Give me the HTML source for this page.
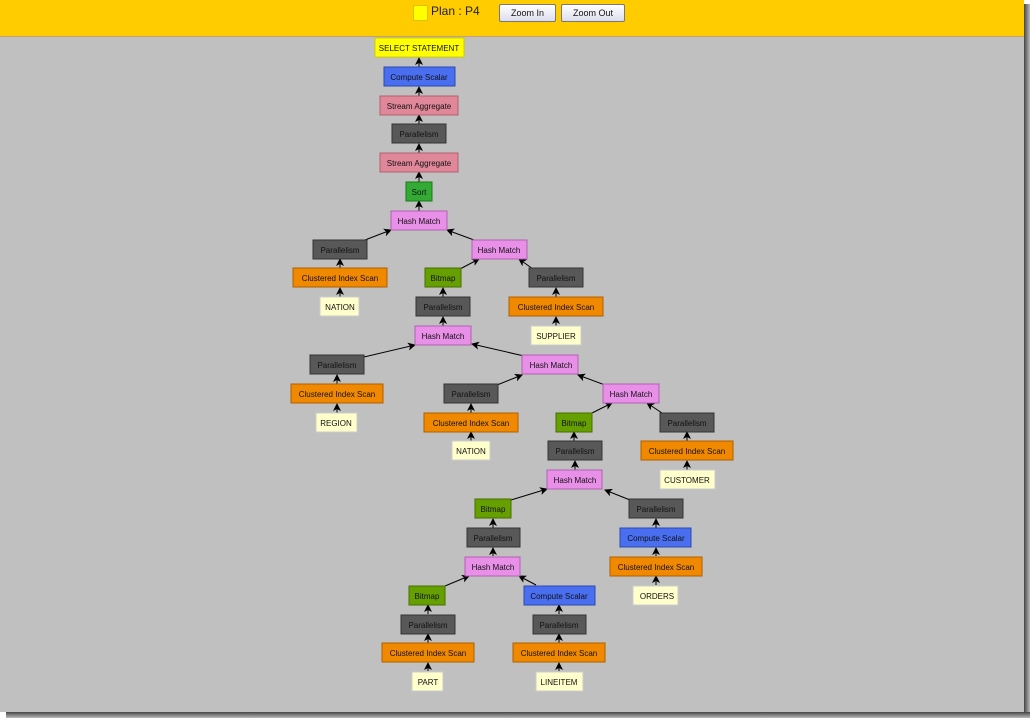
<!DOCTYPE html>
<html><head><meta charset="utf-8"><style>
html,body{margin:0;padding:0;background:#fff;width:1036px;height:724px;overflow:hidden;font-family:"Liberation Sans",sans-serif}
#hdr{position:absolute;left:0;top:0;width:1024px;height:36px;background:#ffcc00;border-bottom:1px solid #c8a070}
#sq{position:absolute;left:413px;top:5px;width:13px;height:14px;background:#ffff00;border:1px solid #e0c000}
#pl{position:absolute;left:431px;top:4px;font-size:12px;color:#222}
.btn{position:absolute;top:4px;height:16px;border:1px solid #777;border-radius:2px;background:linear-gradient(#fff,#dde);font-size:9px;line-height:16px;text-align:center;color:#111}
#gray{position:absolute;left:0;top:37px;width:1024px;height:675px;background:#c0c0c0}
#sr{position:absolute;left:1024px;top:4px;width:6px;height:714px;background:linear-gradient(90deg,#444,#bbb)}
#sb{position:absolute;left:6px;top:712px;width:1024px;height:6px;background:linear-gradient(#444,#bbb)}
svg{position:absolute;left:0;top:0}
text{font-family:"Liberation Sans",sans-serif;font-size:8px;text-anchor:middle;fill:#111}
</style></head><body>
<div id="hdr"></div><div id="sq"></div><div id="pl">Plan : P4</div>
<div class="btn" style="left:499px;width:55px">Zoom In</div>
<div class="btn" style="left:561px;width:62px">Zoom Out</div>
<div id="gray"></div><div id="sr"></div><div id="sb"></div>
<svg width="1036" height="724">
<defs><marker id="a" markerWidth="8" markerHeight="8" refX="7" refY="4" orient="auto" markerUnits="userSpaceOnUse"><path d="M0,0L8,4L0,8L2,4z" fill="#000"/></marker></defs>
<g stroke="#000" stroke-width="1" marker-end="url(#a)">
<line x1="419" y1="67" x2="419" y2="58"/>
<line x1="419" y1="96" x2="419" y2="87"/>
<line x1="419" y1="124" x2="419" y2="115"/>
<line x1="419" y1="153" x2="419" y2="144"/>
<line x1="419" y1="182" x2="419" y2="172"/>
<line x1="419" y1="211" x2="419" y2="201"/>
<line x1="365" y1="240" x2="391" y2="230"/>
<line x1="474" y1="240" x2="447" y2="230"/>
<line x1="340" y1="268" x2="340" y2="259"/>
<line x1="340" y1="297" x2="340" y2="288"/>
<line x1="460" y1="269" x2="479" y2="259"/>
<line x1="533" y1="269" x2="519" y2="259"/>
<line x1="443" y1="297" x2="443" y2="288"/>
<line x1="443" y1="326" x2="443" y2="317"/>
<line x1="556" y1="297" x2="556" y2="288"/>
<line x1="556" y1="326" x2="556" y2="317"/>
<line x1="364" y1="357" x2="415" y2="345"/>
<line x1="524" y1="356" x2="472" y2="344"/>
<line x1="337" y1="384" x2="337" y2="375"/>
<line x1="337" y1="413" x2="337" y2="404"/>
<line x1="497" y1="385" x2="522" y2="375"/>
<line x1="605" y1="385" x2="578" y2="375"/>
<line x1="471" y1="413" x2="471" y2="404"/>
<line x1="471" y1="441" x2="471" y2="432"/>
<line x1="592" y1="413" x2="612" y2="403"/>
<line x1="662" y1="413" x2="647" y2="403"/>
<line x1="574" y1="441" x2="574" y2="432"/>
<line x1="687" y1="441" x2="687" y2="432"/>
<line x1="687" y1="470" x2="687" y2="461"/>
<line x1="575" y1="470" x2="575" y2="461"/>
<line x1="511" y1="500" x2="547" y2="489"/>
<line x1="630" y1="500" x2="605" y2="490"/>
<line x1="493" y1="528" x2="493" y2="519"/>
<line x1="493" y1="556" x2="493" y2="548"/>
<line x1="656" y1="528" x2="656" y2="519"/>
<line x1="656" y1="556" x2="656" y2="548"/>
<line x1="656" y1="585" x2="656" y2="576"/>
<line x1="445" y1="586" x2="469" y2="576"/>
<line x1="536" y1="585" x2="519" y2="576"/>
<line x1="428" y1="614" x2="428" y2="605"/>
<line x1="428" y1="643" x2="428" y2="634"/>
<line x1="428" y1="671" x2="428" y2="663"/>
<line x1="559" y1="614" x2="559" y2="605"/>
<line x1="559" y1="643" x2="559" y2="634"/>
<line x1="559" y1="671" x2="559" y2="663"/>
</g>
<g stroke-width="1">
<!-- helper: rect with 3D border -->
<rect x="375" y="38" width="89" height="19" fill="#ffff00" stroke="#cccc00"/><text x="419" y="51">SELECT STATEMENT</text>
<rect x="384" y="67" width="71" height="19" fill="#4a6ef0" stroke="#2a4ab0"/><text x="419" y="80">Compute Scalar</text>
<rect x="380" y="96" width="78" height="19" fill="#e0879a" stroke="#b06070"/><text x="419" y="109">Stream Aggregate</text>
<rect x="392" y="124" width="54" height="19" fill="#585858" stroke="#333"/><text x="419" y="137">Parallelism</text>
<rect x="380" y="153" width="78" height="19" fill="#e0879a" stroke="#b06070"/><text x="419" y="166">Stream Aggregate</text>
<rect x="406" y="182" width="26" height="19" fill="#33aa33" stroke="#1a7a1a"/><text x="419" y="195">Sort</text>
<rect x="391" y="211" width="56" height="19" fill="#e890e8" stroke="#b060b0"/><text x="419" y="224">Hash Match</text>

<rect x="313" y="240" width="54" height="19" fill="#585858" stroke="#333"/><text x="340" y="253">Parallelism</text>
<rect x="472" y="240" width="55" height="19" fill="#e890e8" stroke="#b060b0"/><text x="499" y="253">Hash Match</text>
<rect x="293" y="268" width="94" height="19" fill="#f08800" stroke="#b06000"/><text x="340" y="281">Clustered Index Scan</text>
<rect x="425" y="268" width="36" height="19" fill="#66a000" stroke="#447000"/><text x="443" y="281">Bitmap</text>
<rect x="529" y="268" width="54" height="19" fill="#585858" stroke="#333"/><text x="556" y="281">Parallelism</text>
<rect x="320" y="297" width="39" height="19" fill="#ffffcc" stroke="#ccc"/><text x="340" y="310">NATION</text>
<rect x="416" y="297" width="54" height="19" fill="#585858" stroke="#333"/><text x="443" y="310">Parallelism</text>
<rect x="509" y="297" width="94" height="19" fill="#f08800" stroke="#b06000"/><text x="556" y="310">Clustered Index Scan</text>
<rect x="415" y="326" width="56" height="19" fill="#e890e8" stroke="#b060b0"/><text x="443" y="339">Hash Match</text>
<rect x="531" y="326" width="50" height="19" fill="#ffffcc" stroke="#ccc"/><text x="556" y="339">SUPPLIER</text>
<rect x="310" y="355" width="54" height="19" fill="#585858" stroke="#333"/><text x="337" y="368">Parallelism</text>
<rect x="522" y="355" width="56" height="19" fill="#e890e8" stroke="#b060b0"/><text x="551" y="368">Hash Match</text>
<rect x="291" y="384" width="92" height="19" fill="#f08800" stroke="#b06000"/><text x="337" y="397">Clustered Index Scan</text>
<rect x="444" y="384" width="54" height="19" fill="#585858" stroke="#333"/><text x="471" y="397">Parallelism</text>
<rect x="603" y="384" width="56" height="19" fill="#e890e8" stroke="#b060b0"/><text x="631" y="397">Hash Match</text>
<rect x="316" y="413" width="41" height="19" fill="#ffffcc" stroke="#ccc"/><text x="336" y="426">REGION</text>
<rect x="424" y="413" width="94" height="19" fill="#f08800" stroke="#b06000"/><text x="471" y="426">Clustered Index Scan</text>
<rect x="556" y="413" width="36" height="19" fill="#66a000" stroke="#447000"/><text x="574" y="426">Bitmap</text>
<rect x="660" y="413" width="54" height="19" fill="#585858" stroke="#333"/><text x="687" y="426">Parallelism</text>
<rect x="452" y="441" width="38" height="19" fill="#ffffcc" stroke="#ccc"/><text x="471" y="454">NATION</text>
<rect x="548" y="441" width="54" height="19" fill="#585858" stroke="#333"/><text x="575" y="454">Parallelism</text>
<rect x="641" y="441" width="92" height="19" fill="#f08800" stroke="#b06000"/><text x="687" y="454">Clustered Index Scan</text>
<rect x="547" y="470" width="55" height="19" fill="#e890e8" stroke="#b060b0"/><text x="575" y="483">Hash Match</text>
<rect x="660" y="470" width="55" height="19" fill="#ffffcc" stroke="#ccc"/><text x="687" y="483">CUSTOMER</text>
<rect x="475" y="499" width="36" height="19" fill="#66a000" stroke="#447000"/><text x="493" y="512">Bitmap</text>
<rect x="629" y="499" width="54" height="19" fill="#585858" stroke="#333"/><text x="656" y="512">Parallelism</text>
<rect x="467" y="528" width="53" height="19" fill="#585858" stroke="#333"/><text x="493" y="541">Parallelism</text>
<rect x="620" y="528" width="71" height="19" fill="#4a6ef0" stroke="#2a4ab0"/><text x="656" y="541">Compute Scalar</text>
<rect x="465" y="557" width="55" height="19" fill="#e890e8" stroke="#b060b0"/><text x="493" y="570">Hash Match</text>
<rect x="610" y="557" width="92" height="19" fill="#f08800" stroke="#b06000"/><text x="656" y="570">Clustered Index Scan</text>
<rect x="409" y="586" width="36" height="19" fill="#66a000" stroke="#447000"/><text x="427" y="599">Bitmap</text>
<rect x="524" y="586" width="71" height="19" fill="#4a6ef0" stroke="#2a4ab0"/><text x="559" y="599">Compute Scalar</text>
<rect x="633" y="586" width="45" height="19" fill="#ffffcc" stroke="#ccc"/><text x="657" y="599">ORDERS</text>
<rect x="401" y="615" width="54" height="19" fill="#585858" stroke="#333"/><text x="428" y="628">Parallelism</text>
<rect x="533" y="615" width="53" height="19" fill="#585858" stroke="#333"/><text x="559" y="628">Parallelism</text>
<rect x="382" y="643" width="92" height="19" fill="#f08800" stroke="#b06000"/><text x="428" y="656">Clustered Index Scan</text>
<rect x="513" y="643" width="92" height="19" fill="#f08800" stroke="#b06000"/><text x="559" y="656">Clustered Index Scan</text>
<rect x="412" y="672" width="31" height="19" fill="#ffffcc" stroke="#ccc"/><text x="428" y="685">PART</text>
<rect x="536" y="672" width="47" height="19" fill="#ffffcc" stroke="#ccc"/><text x="559" y="685">LINEITEM</text>
</g>
</svg>
</body></html>
